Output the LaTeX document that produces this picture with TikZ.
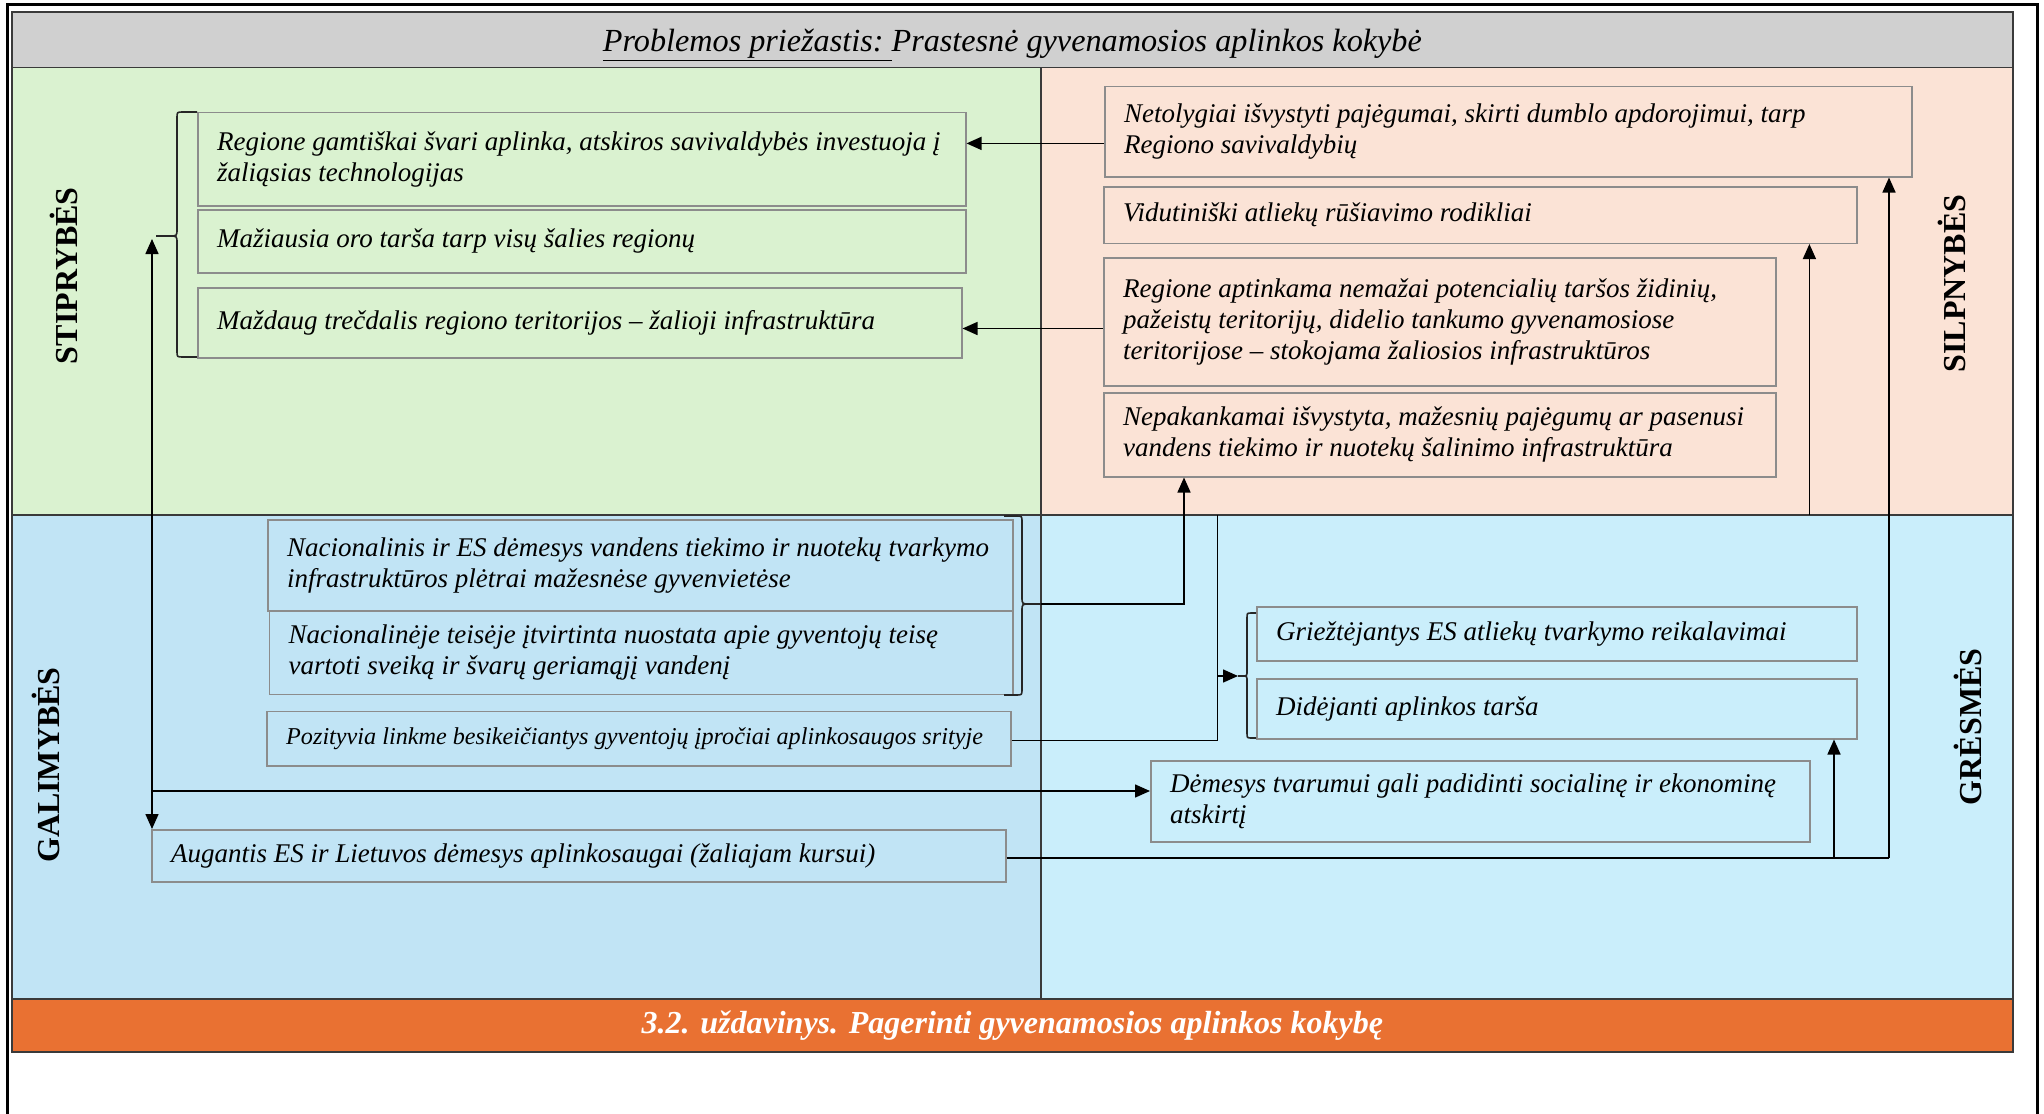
\documentclass[tikz,border=0pt]{standalone}
\usepackage{fontspec}
\setmainfont{Liberation Serif}
\usetikzlibrary{arrows.meta}
\definecolor{cgreen}{HTML}{DAF2D0}
\definecolor{cpink}{HTML}{FBE3D6}
\definecolor{cblueL}{HTML}{C1E4F5}
\definecolor{cblueR}{HTML}{CAEEFB}
\definecolor{chead}{HTML}{D0D0D0}
\definecolor{corange}{HTML}{E97132}
\definecolor{cboxline}{HTML}{8C8C8C}
\definecolor{cframe}{HTML}{3A3A3A}
\newcommand\bxfont{\fontsize{27}{31}\selectfont\itshape}
\newcommand\bxsmallfont{\fontsize{24.2}{28}\selectfont\itshape}
\tikzset{
  bx/.style={draw=cboxline, line width=1.5pt, anchor=north west, inner sep=0pt},
  bxtext/.style={anchor=west, inner sep=0pt, align=left, font=\bxfont},
  arr/.style={-{Triangle[length=15pt,width=13pt]}, line width=1.5pt, black},
  arrtwo/.style={{Triangle[length=15pt,width=13pt]}-{Triangle[length=15pt,width=13pt]}, line width=1.5pt, black},
  conn/.style={line width=1.5pt, black},
  brc/.style={line width=1.6pt, black!85},
  divider/.style={line width=1.5pt, cframe},
  tframe/.style={line width=2.2pt, cframe},
  lab/.style={font=\fontsize{32}{36}\selectfont\bfseries, rotate=90},
}
% name, x1, y1, x2, y2, fill, text
\newcommand\mybx[7]{%
  \pgfmathsetmacro\bw{#4-#2}\pgfmathsetmacro\bh{#5-#3}%
  \node[bx, fill=#6, minimum width=\bw pt, minimum height=\bh pt] (#1) at (#2,#3) {};
  \node[bxtext] (#1t) at ([xshift=20pt]#1.west) {#7};}
\begin{document}
\begin{tikzpicture}[x=1pt,y=-1pt]
\useasboundingbox (0,0) rectangle (2044,1113);
\fill[white] (0,0) rectangle (2044,1113);
% outer frame
\draw[line width=3pt] (7,1115) -- (7,5) -- (2037,5) -- (2037,1115);
% regions
\fill[chead] (11.7,12) rectangle (2013,67.5);
\fill[cgreen] (11.7,67.5) rectangle (1041,515);
\fill[cpink] (1041,67.5) rectangle (2013,515);
\fill[cblueL] (11.7,515) rectangle (1041,999);
\fill[cblueR] (1041,515) rectangle (2013,999);
\fill[corange] (11.7,999) rectangle (2013,1052);
\draw[divider] (11.7,67.5) -- (2013,67.5);
\draw[divider] (11.7,515) -- (2013,515);
\draw[divider] (1041,67.5) -- (1041,999);
\draw[divider] (11.7,999) -- (2013,999);
\draw[tframe] (11.7,12) rectangle (2013,1052);
% header and footer
\node[font=\fontsize{32.2}{36}\selectfont\itshape] (head) at (1012.4,45) {\underline{Problemos priežastis:\ }Prastesnė gyvenamosios aplinkos kokybė};
\node[font=\fontsize{32}{36}\selectfont\bfseries\itshape, text=white] (foot) at (1012.4,1025.5) {3.2. uždavinys. Pagerinti gyvenamosios aplinkos kokybę};
% side labels
\node[lab] (lS) at (64,275.7) {STIPRYBĖS};
\node[lab] (lW) at (1951.5,283.5) {SILPNYBĖS};
\node[lab] (lO) at (45.6,765) {GALIMYBĖS};
\node[lab] (lT) at (1968,726.8) {GRĖSMĖS};
% strengths
\mybx{S1}{197}{112}{965}{205}{cgreen}{Regione gamtiškai švari aplinka, atskiros savivaldybės investuoja į\\žaliąsias technologijas}
\mybx{S2}{197}{209}{965}{272}{cgreen}{Mažiausia oro tarša tarp visų šalies regionų}
\mybx{S3}{197}{287}{961}{357}{cgreen}{Maždaug trečdalis regiono teritorijos – žalioji infrastruktūra}
% weaknesses
\mybx{W1}{1104}{86}{1911}{176}{cpink}{Netolygiai išvystyti pajėgumai, skirti dumblo apdorojimui, tarp\\Regiono savivaldybių}
\mybx{W2}{1103}{186}{1856}{242.5}{cpink}{Vidutiniški atliekų rūšiavimo rodikliai}
\mybx{W3}{1103}{257}{1775}{385}{cpink}{Regione aptinkama nemažai potencialių taršos židinių,\\pažeistų teritorijų, didelio tankumo gyvenamosiose\\teritorijose – stokojama žaliosios infrastruktūros}
\mybx{W4}{1103}{392}{1775}{476}{cpink}{Nepakankamai išvystyta, mažesnių pajėgumų ar pasenusi\\vandens tiekimo ir nuotekų šalinimo infrastruktūra}
% opportunities
\mybx{O1}{267}{519}{1012}{610}{cblueL}{Nacionalinis ir ES dėmesys vandens tiekimo ir nuotekų tvarkymo\\infrastruktūros plėtrai mažesnėse gyvenvietėse}
\mybx{O2}{268.5}{610}{1012}{693.5}{cblueL}{Nacionalinėje teisėje įtvirtinta nuostata apie gyventojų teisę\\vartoti sveiką ir švarų geriamąjį vandenį}
\mybx{O3}{266}{710.5}{1010}{765}{cblueL}{\bxsmallfont Pozityvia linkme besikeičiantys gyventojų įpročiai aplinkosaugos srityje}
\mybx{O4}{151}{829}{1005}{881}{cblueL}{Augantis ES ir Lietuvos dėmesys aplinkosaugai (žaliajam kursui)}
% threats
\mybx{T1}{1256}{606}{1856}{660}{cblueR}{Griežtėjantys ES atliekų tvarkymo reikalavimai}
\mybx{T2}{1256}{678}{1856}{738}{cblueR}{Didėjanti aplinkos tarša}
\mybx{T3}{1150}{760}{1809}{841}{cblueR}{Dėmesys tvarumui gali padidinti socialinę ir ekonominę\\atskirtį}
% braces
\draw[brc] (197,112) -- (183,112) .. controls (177,112) .. (177,118) -- (177,229) .. controls (177,236) .. (169,236) -- (156,236) -- (169,236) .. controls (177,236) .. (177,243) -- (177,351) .. controls (177,357) .. (183,357) -- (197,357);
\coordinate (sbr) at (156,236);
\draw[brc] (1004,516) -- (1016,516) .. controls (1022,516) .. (1022,522) -- (1022,597) .. controls (1022,604) .. (1030,604) -- (1041,604) -- (1030,604) .. controls (1022,604) .. (1022,611) -- (1022,689) .. controls (1022,695) .. (1016,695) -- (1004,695);
\coordinate (obr) at (1041,604);
\draw[brc] (1256,613) -- (1252,613) .. controls (1247,613) .. (1247,618) -- (1247,671) .. controls (1247,676) .. (1242,676) -- (1238,676) -- (1242,676) .. controls (1247,676) .. (1247,681) -- (1247,733) .. controls (1247,738) .. (1252,738) -- (1256,738);
\coordinate (tbr) at (1238,676);
% connectors
\coordinate (yA) at (0,143.4);
\draw[arr] (W1.west |- yA) -- (S1.east |- yA);
\coordinate (yB) at (0,328.5);
\draw[arr] (W3.west |- yB) -- (S3.east |- yB);
\coordinate (kW4) at (1184,604);
\draw[arr] (obr) -- (kW4) -- (kW4 |- W4.south);
\coordinate (kW2) at (1809.4,515);
\draw[arr] (kW2) -- (kW2 |- W2.south);
\coordinate (kO4) at (1889,858);
\coordinate (kT2) at (1834,858);
\draw[conn] (O4.east |- kO4) -- (kO4);
\draw[arr] (kO4) -- (kO4 |- W1.south);
\draw[arr] (kT2) -- (kT2 |- T2.south);
\coordinate (kO3a) at (1217.6,740.5);
\coordinate (kO3b) at (1217.6,515);
\draw[conn] (O3.east |- kO3a) -- (kO3a) -- (kO3b);
\draw[arr] (kO3a |- tbr) -- (tbr);
\coordinate (kS) at (152,239);
\draw[arrtwo] (kS) -- (kS |- O4.north);
\coordinate (kT3) at (152,791);
\draw[arr] (kT3) -- (kT3 -| T3.west);
\end{tikzpicture}
\end{document}
